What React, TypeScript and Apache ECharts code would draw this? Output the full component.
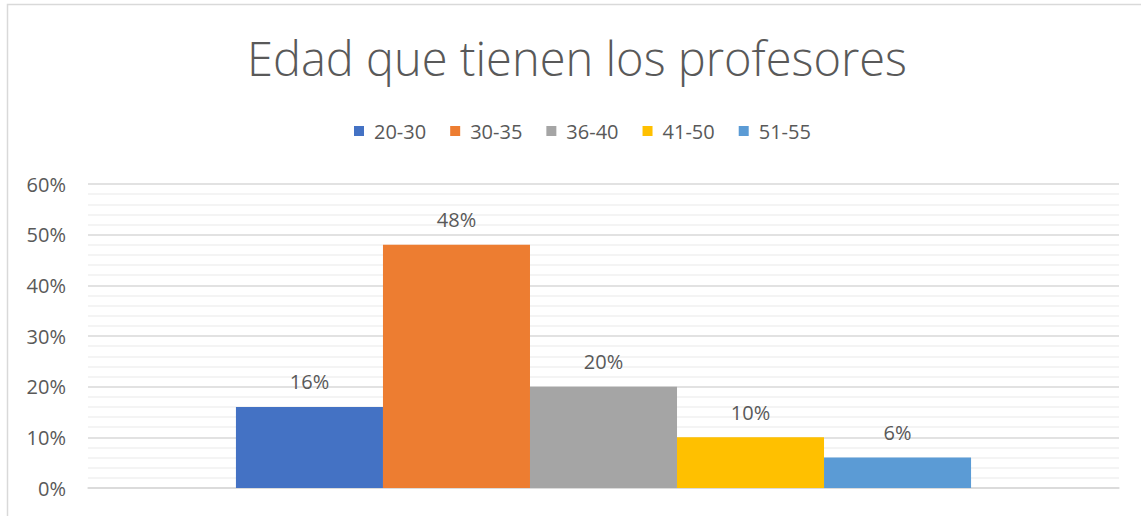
import React, { useEffect, useRef } from "react";
import * as echarts from "echarts";

const title = "Edad que tienen los profesores";
const categories = [""];
const seriesNames = ["20-30", "30-35", "36-40", "41-50", "51-55"];
const seriesValues = [0.16, 0.48, 0.2, 0.1, 0.06];
const colors = ["#4472C4", "#ED7D31", "#A5A5A5", "#FFC000", "#5B9BD5"];
const yMin = 0;
const yMax = 0.6;
const yInterval = 0.1;

export default function App() {
  const ref = useRef<HTMLDivElement>(null);
  useEffect(() => {
    if (!ref.current) return;
    const chart = echarts.init(ref.current, undefined, { renderer: "svg" });
    const font = "'Open Sans', sans-serif";
    chart.setOption({
      animation: false,
      backgroundColor: "#ffffff",
      color: colors,
      title: {
        text: title,
        left: 242,
        top: 29,
        textStyle: { fontFamily: font, fontWeight: 300, fontSize: 47, color: "#595959" },
      },
      legend: {
        top: 116,
        left: 349,
        icon: "rect",
        itemWidth: 10,
        itemHeight: 10,
        itemGap: 24,
        data: seriesNames,
        textStyle: { fontFamily: font, fontSize: 20, color: "#595959", padding: [0, 0, 0, 5] },
      },
      grid: { left: 88, right: 22, top: 184, bottom: 28, containLabel: false },
      graphic: [
        {
          type: "rect",
          shape: { x: 7.5, y: 4.5, width: 1200, height: 600 },
          style: { fill: "none", stroke: "#d9d9d9", lineWidth: 1.5 },
          silent: true,
        },
      ],
      xAxis: {
        type: "category",
        data: categories,
        axisLine: { show: true, lineStyle: { color: "#d9d9d9", width: 1.5 } },
        axisTick: { show: false },
        axisLabel: { show: false },
      },
      yAxis: {
        type: "value",
        min: yMin,
        max: yMax,
        interval: yInterval,
        axisLine: { show: false },
        axisTick: { show: false },
        axisLabel: {
          fontFamily: font,
          fontSize: 20,
          color: "#595959",
          margin: 22,
          formatter: (v: number) => Math.round(v * 100) + "%",
        },
        splitLine: { show: true, lineStyle: { color: "#d9d9d9", width: 1.5 } },
        minorTick: { show: false, splitNumber: 5 },
        minorSplitLine: { show: true, lineStyle: { color: "#f0f0f0", width: 1.5 } },
      },
      series: seriesNames.map((name, i) => ({
        name,
        type: "bar",
        data: [seriesValues[i]],
        barGap: "0%",
        barCategoryGap: "28.7%",
        itemStyle: { color: colors[i] },
        label: {
          show: true,
          position: "top",
          distance: 15,
          fontFamily: font,
          fontSize: 20,
          color: "#595959",
          formatter: (p: any) => Math.round(p.value * 100) + "%",
        },
      })),
    });
    return () => chart.dispose();
  }, []);
  return (
    <div
      ref={ref}
      style={{ position: "fixed", left: 0, top: 0, width: 1141, height: 516 }}
    />
  );
}
